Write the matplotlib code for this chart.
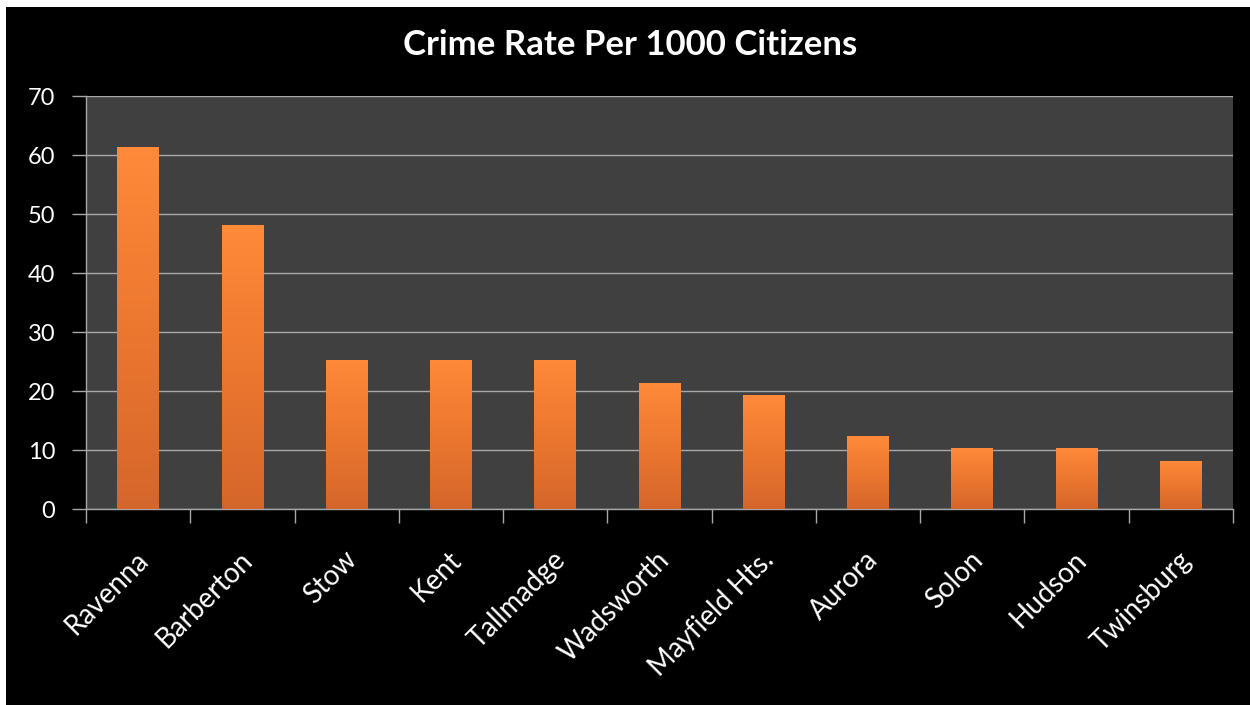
import matplotlib
matplotlib.use("Agg")
import matplotlib.pyplot as plt
import matplotlib.patches as patches
import matplotlib.transforms as mtransforms
import numpy as np

# データ
cities = ['Ravenna', 'Barberton', 'Stow', 'Kent', 'Tallmadge', 'Wadsworth',
          'Mayfield Hts.', 'Aurora', 'Solon', 'Hudson', 'Twinsburg']
rates = [61.3, 48.2, 25.3, 25.3, 25.3, 21.3, 19.3, 12.3, 10.3, 10.3, 8.2]
y_ticks = [0, 10, 20, 30, 40, 50, 60, 70]
title = 'Crime Rate Per 1000 Citizens'

plt.rcParams['font.family'] = ['Lato', 'DejaVu Sans']

W, H = 1250, 705
fig = plt.figure(figsize=(W / 100, H / 100), dpi=100, facecolor='white')

# 黒い背景（左と上に白い余白）
bg = patches.Rectangle((6 / W, 0), 1 - 6 / W, 1 - 7 / H, transform=fig.transFigure,
                       facecolor='black', edgecolor='none', zorder=-10)
fig.patches.append(bg)

left, right, top, bottom = 86, 1233, 96, 509
ax = fig.add_axes([left / W, 1 - bottom / H, (right - left) / W, (bottom - top) / H])
ax.set_facecolor('#404040')

x = np.arange(len(cities))
bar_w = 0.4
bars = ax.bar(x, rates, width=bar_w, color='#f07a30', edgecolor='none', zorder=3)

# 縦方向のグラデーション
grad = np.linspace(0, 1, 256).reshape(-1, 1)
cmap = matplotlib.colors.LinearSegmentedColormap.from_list(
    'org', ['#d5662b', '#ec772f', '#ff8a3a'])
for b in bars:
    bx, by = b.get_x(), b.get_y()
    bw, bh = b.get_width(), b.get_height()
    im = ax.imshow(grad, cmap=cmap, aspect='auto', origin='lower',
                   extent=[bx, bx + bw, by, by + bh], zorder=4)
    im.set_clip_path(b)

ax.set_xlim(-0.5, len(cities) - 0.5)
ax.set_ylim(0, 70)

ax.set_yticks(y_ticks)
ax.set_yticklabels([str(v) for v in y_ticks], color='white', fontsize=17)
ax.yaxis.grid(True, color='#a8a8a8', linewidth=1.0, zorder=1)
ax.set_axisbelow(True)

# カテゴリ境界に目盛り
ax.set_xticks(np.arange(len(cities) + 1) - 0.5)
ax.set_xticklabels([])
ax.set_xticks(x, minor=True)
ax.set_xticklabels(cities, minor=True, rotation=45, ha='right', va='top',
                   rotation_mode='anchor', color='white', fontsize=20)
ax.tick_params(axis='x', which='minor', length=0, pad=27)
ax.tick_params(axis='x', which='major', length=10, color='#a8a8a8', width=1)
ax.tick_params(axis='y', length=10, color='#a8a8a8', width=1, pad=12)

shift = mtransforms.ScaledTranslation(-3 / 100, 0, fig.dpi_scale_trans)
for lab in ax.get_xticklabels(minor=True):
    lab.set_transform(lab.get_transform() + shift)

for s in ['top', 'right']:
    ax.spines[s].set_visible(False)
for s in ['left', 'bottom']:
    ax.spines[s].set_color('#a8a8a8')
    ax.spines[s].set_linewidth(1.0)

fig.text(630 / W, 1 - 45 / H, title, color='white', fontsize=25,
         fontweight='bold', ha='center', va='center')

fig.savefig('out.png', dpi=100, facecolor='white')
